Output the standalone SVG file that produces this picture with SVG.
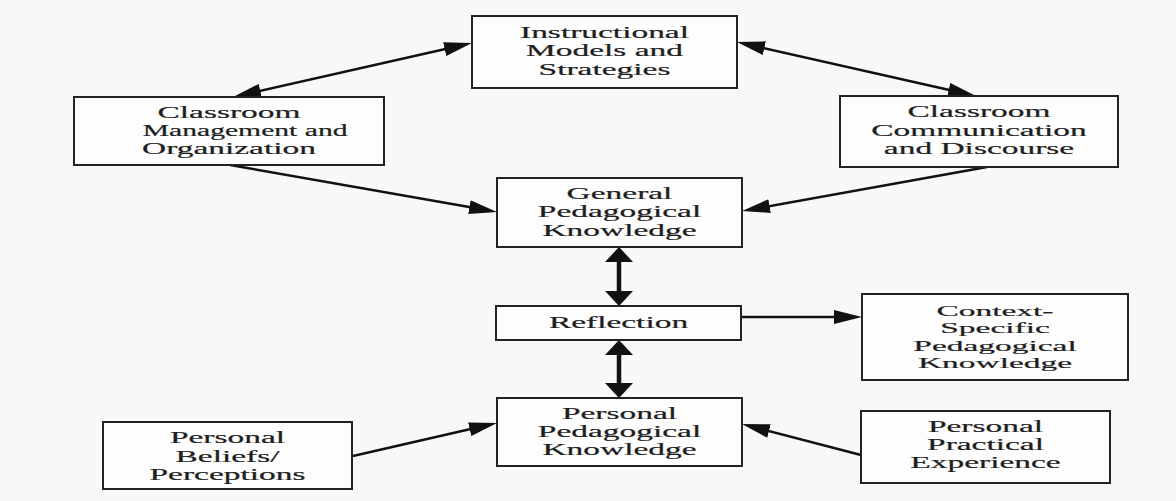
<svg xmlns="http://www.w3.org/2000/svg" width="1176" height="501" viewBox="0 0 1176 501">
<style>
.box{fill:#fdfdfd;stroke:#222;stroke-width:2}
.lbl{font-family:"Liberation Serif","Times New Roman",serif;font-size:16px;fill:#1e1e1e;stroke:#1e1e1e;stroke-width:0.2;text-anchor:middle}
.sm{font-size:15px}
.con{stroke:#111;stroke-width:2.5;fill:none}
.vcon{stroke:#111;stroke-width:4.5;fill:none}
</style>
<defs>
<marker id="ah" markerUnits="userSpaceOnUse" markerWidth="28" markerHeight="14" viewBox="0 0 28 14" refX="20" refY="7" orient="auto-start-reverse"><path d="M0,0 L28,7 L0,14 Z" fill="#111"/></marker>
<marker id="av" markerUnits="userSpaceOnUse" markerWidth="15" markerHeight="28" viewBox="0 0 15 28" refX="10" refY="14" orient="auto-start-reverse"><path d="M0,0 L15,14 L0,28 Z" fill="#111"/></marker>
</defs>
<rect width="1176" height="501" fill="#f8f8f8"/>
<g id="connectors">
<line class="con" x1="240.8" y1="95.2" x2="464.2" y2="44.8" marker-start="url(#ah)" marker-end="url(#ah)"/>
<line class="con" x1="744.8" y1="43.8" x2="968.2" y2="94.2" marker-start="url(#ah)" marker-end="url(#ah)"/>
<line class="con" x1="230" y1="165" x2="489.1" y2="210.6" marker-end="url(#ah)"/>
<line class="con" x1="987" y1="167" x2="749.9" y2="209.6" marker-end="url(#ah)"/>
<line class="vcon" x1="619" y1="252" x2="619" y2="301" marker-start="url(#av)" marker-end="url(#av)"/>
<line class="con" x1="741" y1="317" x2="854" y2="317" marker-end="url(#ah)"/>
<line class="vcon" x1="619" y1="345" x2="619" y2="393" marker-start="url(#av)" marker-end="url(#av)"/>
<line class="con" x1="353" y1="456" x2="489.2" y2="424.8" marker-end="url(#ah)"/>
<line class="con" x1="861" y1="455" x2="749.7" y2="426" marker-end="url(#ah)"/>
</g>
<g id="instructional">
<rect class="box" x="472" y="16" width="265" height="72"/>
<g transform="translate(604.5 0) scale(2.09 1)"><text class="lbl" x="0" y="38">Instructional</text><text class="lbl" x="0" y="56.5">Models and</text><text class="lbl" x="0" y="75">Strategies</text></g>
</g>
<g id="classroom-management">
<rect class="box" x="74" y="97" width="310" height="68"/>
<g transform="translate(229 0) scale(2.09 1)"><text class="lbl" x="0" y="118">Classroom</text><text class="lbl" x="7.7" y="136" textLength="98" lengthAdjust="spacingAndGlyphs">Management and</text><text class="lbl" x="0" y="154">Organization</text></g>
</g>
<g id="classroom-communication">
<rect class="box" x="840" y="96" width="278" height="71"/>
<g transform="translate(979 0) scale(2.09 1)"><text class="lbl" x="0" y="117.5">Classroom</text><text class="lbl" x="0" y="136">Communication</text><text class="lbl" x="0" y="154">and Discourse</text></g>
</g>
<g id="general-pedagogical">
<rect class="box" x="497" y="178" width="245" height="69"/>
<g transform="translate(619.5 0) scale(2.09 1)"><text class="lbl" x="0" y="199">General</text><text class="lbl" x="0" y="217.5">Pedagogical</text><text class="lbl" x="0" y="236">Knowledge</text></g>
</g>
<g id="reflection">
<rect class="box" x="496" y="306" width="245" height="34"/>
<g transform="translate(618.5 0) scale(2.09 1)"><text class="lbl" x="0" y="328">Reflection</text></g>
</g>
<g id="context-specific">
<rect class="box" x="862" y="294" width="266" height="86"/>
<g transform="translate(995 0) scale(2.23 1)"><text class="lbl sm" x="0" y="316">Context-</text><text class="lbl sm" x="0" y="333.5">Specific</text><text class="lbl sm" x="0" y="351">Pedagogical</text><text class="lbl sm" x="0" y="368.5">Knowledge</text></g>
</g>
<g id="personal-pedagogical">
<rect class="box" x="497" y="398" width="245" height="68"/>
<g transform="translate(619.5 0) scale(2.09 1)"><text class="lbl" x="0" y="419">Personal</text><text class="lbl" x="0" y="437">Pedagogical</text><text class="lbl" x="0" y="455">Knowledge</text></g>
</g>
<g id="personal-beliefs">
<rect class="box" x="103" y="422" width="249" height="67"/>
<g transform="translate(227.5 0) scale(2.09 1)"><text class="lbl" x="0" y="443.5">Personal</text><text class="lbl" x="0" y="462">Beliefs/</text><text class="lbl" x="0" y="480">Perceptions</text></g>
</g>
<g id="personal-practical">
<rect class="box" x="861" y="411" width="249" height="72"/>
<g transform="translate(985.5 0) scale(2.09 1)"><text class="lbl" x="0" y="432">Personal</text><text class="lbl" x="0" y="450">Practical</text><text class="lbl" x="0" y="468">Experience</text></g>
</g>
</svg>
